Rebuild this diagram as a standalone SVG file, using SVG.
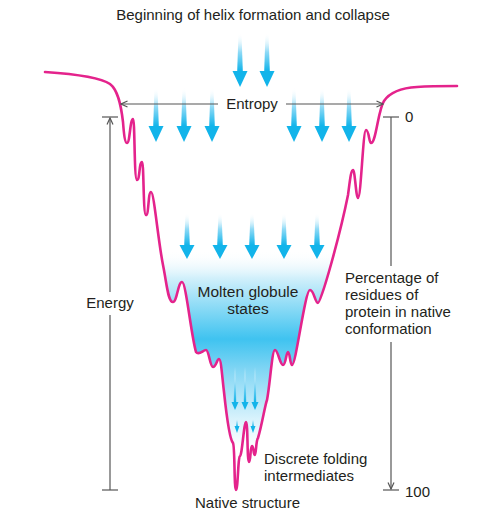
<svg xmlns="http://www.w3.org/2000/svg" xmlns:xlink="http://www.w3.org/1999/xlink" width="504" height="520" viewBox="0 0 504 520">
<style>
text{font-family:"Liberation Sans",Arial,sans-serif;font-size:15px;fill:#231f20}
.ax{stroke:#555;stroke-width:1.2;fill:none}
.curve{fill:none;stroke:#e4238c;stroke-width:2.6;stroke-linejoin:round;stroke-linecap:round}
.head{fill:#12b4ea}
.shaft{fill:url(#tail)}
</style>
<defs>
<linearGradient id="tail" x1="0" y1="0" x2="0" y2="1">
<stop offset="0" stop-color="#ffffff" stop-opacity="0"/>
<stop offset="0.5" stop-color="#8fdaf6"/>
<stop offset="1" stop-color="#12b4ea"/>
</linearGradient>
<linearGradient id="well" gradientUnits="userSpaceOnUse" x1="0" y1="250" x2="0" y2="448">
<stop offset="0" stop-color="#ffffff" stop-opacity="0"/>
<stop offset="0.14" stop-color="#d2f0fb"/>
<stop offset="0.45" stop-color="#3fc3f0"/>
<stop offset="0.6" stop-color="#7fd5f4"/>
<stop offset="0.85" stop-color="#d7f2fc"/>
<stop offset="1" stop-color="#ffffff"/>
</linearGradient>
<marker id="ah" viewBox="0 0 8 8" refX="7" refY="4" markerWidth="8" markerHeight="8" markerUnits="userSpaceOnUse" orient="auto-start-reverse">
<path d="M0.5,1 L7,4 L0.5,7" fill="none" stroke="#555" stroke-width="1.2"/>
</marker>
<g id="a1"><polygon class="shaft" points="-1.5,0 1.5,0 2.8,38 -2.8,38"/><polygon class="head" points="-7.5,38 7.5,38 0,54"/></g>
<g id="a3"><polygon class="shaft" points="-1.5,0 1.5,0 2.8,32 -2.8,32"/><polygon class="head" points="-7.5,32 7.5,32 0,46"/></g>
<g id="a4"><polygon class="shaft" points="-0.6,0 0.6,0 1.2,35 -1.2,35"/><polygon class="head" points="-3.5,35 3.5,35 0,43"/></g>
<g id="a5"><polygon class="shaft" points="-0.4,0 0.4,0 0.8,8 -0.8,8"/><polygon class="head" points="-2.5,8 2.5,8 0,15"/></g>
</defs>
<rect width="504" height="520" fill="#ffffff"/>

<g id="funnel">
<path id="curvePath" fill="url(#well)" stroke="none" d="M45,72 C75,74 100,77 110,84 C118,90 121,105 123,122 C124,135 125,143 127,143 C130,143 130,119 133,119 C135,119 134,180 137,180 C140,180 139,162 142,162 C144,162 143,215 146,215 C149,215 148,192 151,192 C154,192 158,240 163,265 C167,285 168,302 173,302 C177,302 178,282 182,282 C186,282 191,335 196,352 C199,356 203,350 206,350 C209,350 210,367 213,367 C216,367 217,359 219,359 C221,359 222,375 224,392 C227,420 230,440 233,443 C235,446 234,490 236,490 C238,490 238,456 240,456 C242,456 244,422 246,422 C248,422 247,462 249,462 C251,462 250,446 252,446 C254,446 253,455 255,455 C256,455 256,440 258,438 C262,425 265,405 267,400 C270,385 272,350 275,350 C278,350 280,365 283,365 C286,365 286,352 288,352 C290,352 290,365 292,365 C296,365 305,290 310,290 C314,290 315,303 318,303 C321,303 340,235 348,195 C350,180 351,170 353,170 C355,170 356,198 358,198 C361,198 363,130 366,130 C369,130 369,143 371,143 C376,143 378,110 384,101 C390,92 400,88 417,87 C430,86 445,86 457,86"/>
<path class="curve" d="M45,72 C75,74 100,77 110,84 C118,90 121,105 123,122 C124,135 125,143 127,143 C130,143 130,119 133,119 C135,119 134,180 137,180 C140,180 139,162 142,162 C144,162 143,215 146,215 C149,215 148,192 151,192 C154,192 158,240 163,265 C167,285 168,302 173,302 C177,302 178,282 182,282 C186,282 191,335 196,352 C199,356 203,350 206,350 C209,350 210,367 213,367 C216,367 217,359 219,359 C221,359 222,375 224,392 C227,420 230,440 233,443 C235,446 234,490 236,490 C238,490 238,456 240,456 C242,456 244,422 246,422 C248,422 247,462 249,462 C251,462 250,446 252,446 C254,446 253,455 255,455 C256,455 256,440 258,438 C262,425 265,405 267,400 C270,385 272,350 275,350 C278,350 280,365 283,365 C286,365 286,352 288,352 C290,352 290,365 292,365 C296,365 305,290 310,290 C314,290 315,303 318,303 C321,303 340,235 348,195 C350,180 351,170 353,170 C355,170 356,198 358,198 C361,198 363,130 366,130 C369,130 369,143 371,143 C376,143 378,110 384,101 C390,92 400,88 417,87 C430,86 445,86 457,86"/>
</g>

<g id="arrows">
<use xlink:href="#a1" x="240" y="33"/>
<use xlink:href="#a1" x="267" y="33"/>
<use xlink:href="#a1" x="156" y="88"/>
<use xlink:href="#a1" x="184" y="88"/>
<use xlink:href="#a1" x="212" y="88"/>
<use xlink:href="#a1" x="294" y="88"/>
<use xlink:href="#a1" x="322" y="88"/>
<use xlink:href="#a1" x="349" y="88"/>
<use xlink:href="#a3" x="187" y="213"/>
<use xlink:href="#a3" x="220" y="213"/>
<use xlink:href="#a3" x="252" y="213"/>
<use xlink:href="#a3" x="284" y="213"/>
<use xlink:href="#a3" x="317" y="213"/>
<use xlink:href="#a4" x="235" y="367"/>
<use xlink:href="#a4" x="245" y="367"/>
<use xlink:href="#a4" x="255" y="367"/>
<use xlink:href="#a5" x="237" y="418"/>
<use xlink:href="#a5" x="253" y="418"/>
</g>

<g id="connectors">
<line class="ax" x1="218" y1="104" x2="121" y2="104" marker-end="url(#ah)"/>
<line class="ax" x1="286" y1="104" x2="383" y2="104" marker-end="url(#ah)"/>
<line class="ax" x1="110" y1="292" x2="110" y2="118" marker-end="url(#ah)"/>
<line class="ax" x1="110" y1="315" x2="110" y2="490"/>
<line class="ax" x1="102" y1="117" x2="118" y2="117"/>
<line class="ax" x1="102" y1="490" x2="118" y2="490"/>
<line class="ax" x1="391" y1="117" x2="391" y2="266"/>
<line class="ax" x1="391" y1="342" x2="391" y2="489" marker-end="url(#ah)"/>
<line class="ax" x1="383" y1="117" x2="399" y2="117"/>
<line class="ax" x1="383" y1="490" x2="399" y2="490"/>
</g>

<g id="labels">
<text x="253" y="20" text-anchor="middle">Beginning of helix formation and collapse</text>
<text x="252" y="109" text-anchor="middle">Entropy</text>
<text x="110" y="308" text-anchor="middle">Energy</text>
<text x="405" y="122">0</text>
<text x="405" y="497">100</text>
<text x="345" y="283">Percentage of</text>
<text x="345" y="300">residues of</text>
<text x="345" y="317">protein in native</text>
<text x="345" y="334">conformation</text>
<text x="248" y="297" text-anchor="middle" style="font-size:15.5px">Molten globule</text>
<text x="248" y="314" text-anchor="middle" style="font-size:15.5px">states</text>
<text x="264" y="464">Discrete folding</text>
<text x="264" y="481">intermediates</text>
<text x="195" y="508">Native structure</text>
</g>
</svg>
